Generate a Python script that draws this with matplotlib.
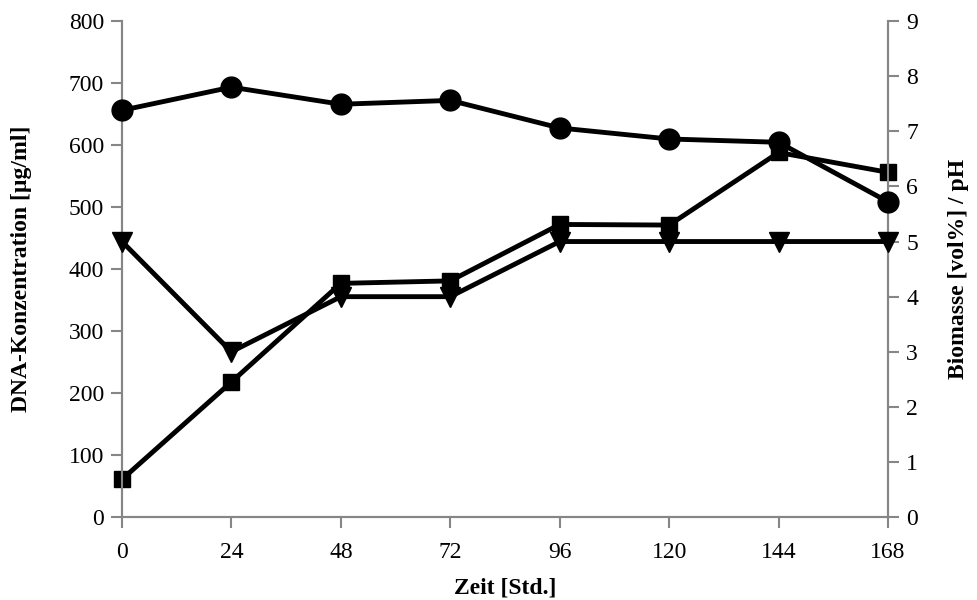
import matplotlib
matplotlib.use('Agg')
import matplotlib.pyplot as plt

plt.rcParams['font.family'] = ['Liberation Serif', 'DejaVu Serif']

# data
zeit = [0, 24, 48, 72, 96, 120, 144, 168]
dna = [61, 218, 377, 381, 472, 471, 588, 556]          # ug/ml, left axis
ph = [7.38, 7.80, 7.49, 7.56, 7.06, 6.86, 6.80, 5.72]   # right axis
biomasse = [5, 3, 4, 4, 5, 5, 5, 5]                     # vol%, right axis

grau = '#868686'

fig = plt.figure(figsize=(9.78, 6), dpi=100)
ax = fig.add_axes([0.1247, 0.138, 0.908 - 0.1247, 0.965 - 0.138])
ax2 = ax.twinx()

ax.plot(zeit, dna, color='black', lw=3.5, marker='s', ms=12, clip_on=False, zorder=3)
ax2.plot(zeit, ph, color='black', lw=3.5, marker='o', ms=15, clip_on=False, zorder=3)
ax2.plot(zeit, biomasse, color='black', lw=3.5, marker='v', ms=14, clip_on=False, zorder=3)

ax.set_xlim(0, 168)
ax.set_ylim(0, 800)
ax2.set_ylim(0, 9)
ax.set_xticks(zeit)
ax.set_yticks(range(0, 801, 100))
ax2.set_yticks(range(0, 10))

for a in (ax, ax2):
    a.spines['top'].set_visible(False)
    for s in ('left', 'right', 'bottom'):
        a.spines[s].set_color(grau)
        a.spines[s].set_linewidth(1.5)
    a.tick_params(direction='out', length=8, width=1.5, color=grau,
                  labelsize=17, pad=5)
ax.tick_params(axis='x', pad=10)

ax.set_xlabel('Zeit [Std.]', fontsize=17, fontweight='bold', labelpad=10)
ax.set_ylabel('DNA-Konzentration [µg/ml]', fontsize=17, fontweight='bold')
ax2.set_ylabel('Biomasse [vol%] / pH', fontsize=17, fontweight='bold')
ax.yaxis.set_label_coords(-0.1175, 0.5)
ax2.yaxis.set_label_coords(1.078, 0.5)

fig.savefig('out.png', dpi=100)
